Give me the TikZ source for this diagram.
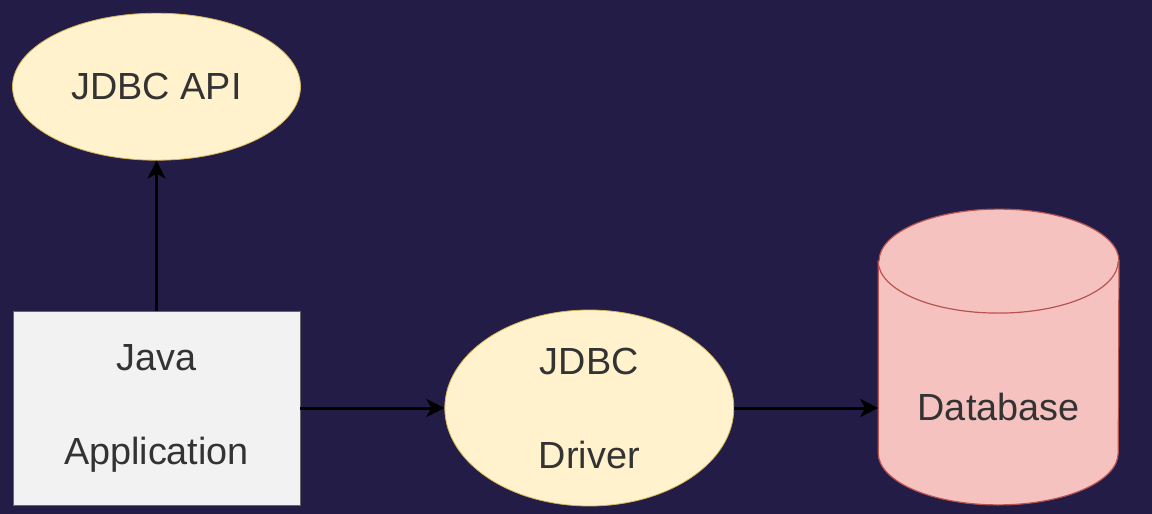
\documentclass[tikz,border=0pt]{standalone}
\usepackage{fontspec}
\setmainfont{Liberation Sans}
\usetikzlibrary{positioning,arrows.meta,shapes.geometric}

\definecolor{bgnavy}{RGB}{34,28,71}
\definecolor{noteyellow}{HTML}{FFF2CC}
\definecolor{noteline}{HTML}{D6B656}
\definecolor{boxgray}{HTML}{F2F2F2}
\definecolor{boxline}{HTML}{666666}
\definecolor{dbred}{HTML}{F5C2C0}
\definecolor{dbline}{HTML}{B85450}
\definecolor{labeltext}{HTML}{333333}

\begin{document}
\begin{tikzpicture}[x=0.5pt, y=-0.5pt,
  every node/.style={text=labeltext, font=\fontsize{18.9}{47}\selectfont, align=center},
  apibubble/.style={draw=noteline, fill=noteyellow, ellipse, inner sep=0pt},
  appbox/.style={draw=boxline, fill=boxgray, rectangle, minimum width=143.5pt, minimum height=97pt, inner sep=0pt},
  dbstore/.style={rectangle, minimum width=120pt, minimum height=147.5pt, inner sep=0pt},
  dbcap/.style={x radius=60pt, y radius=26pt},
  flow/.style={-{Stealth[length=9pt, width=9pt, inset=2.5pt]}, line width=1.5pt, black}]

% Background
\fill[bgnavy] (0,0) rectangle (1152,514);
\useasboundingbox (0,0) rectangle (1152,514);

% Nodes
\node[appbox] (app) at (156.5,408) {Java\\Application};
\node[apibubble, minimum width=144pt, minimum height=73.5pt, above=75pt of app] (api) {JDBC API};
\node[apibubble, minimum width=144.5pt, minimum height=98pt, right=72pt of app] (drv) {JDBC\\Driver};
\node[dbstore, right=72pt of drv, yshift=25.5pt] (db) {};

% Database cylinder
\draw[dbline, fill=dbred, line width=0.6pt]
  ([yshift=-26pt]db.north west) -- ([yshift=26pt]db.south west)
  arc[start angle=180, end angle=360, dbcap]
  -- ([yshift=-26pt]db.north east)
  arc[start angle=0, end angle=180, dbcap] -- cycle;
\draw[dbline, line width=0.6pt] ([yshift=-26pt]db.north west)
  arc[start angle=180, end angle=360, dbcap];
\node at ([yshift=-25pt]db.center) {Database};

% Arrows
\draw[flow] (app) -- (api);
\draw[flow] (app) -- (drv);
\draw[flow] (drv.east) -- (drv.east -| db.west);

\end{tikzpicture}
\end{document}
